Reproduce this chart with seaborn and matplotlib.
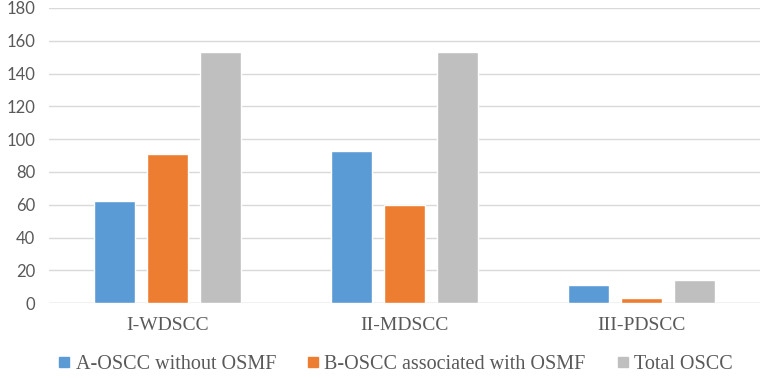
import pandas as pd
import seaborn as sns
import matplotlib
matplotlib.use('Agg')
import matplotlib.pyplot as plt
from matplotlib.lines import Line2D

# data
categories = ['I-WDSCC', 'II-MDSCC', 'III-PDSCC']
series = ['A-OSCC without OSMF', 'B-OSCC associated with OSMF', 'Total OSCC']
without_osmf = [62, 93, 11]
with_osmf = [91, 60, 3]
total_oscc = [153, 153, 14]
colors = ['#5B9BD5', '#ED7D31', '#BFBFBF']

rows = []
for name, vals in zip(series, [without_osmf, with_osmf, total_oscc]):
    for cat, v in zip(categories, vals):
        rows.append({'Grade': cat, 'Series': name, 'Count': v})
df = pd.DataFrame(rows)

sns.set_style('white')
fig = plt.figure(figsize=(7.67, 3.78), dpi=100)
ax = fig.add_axes([0.064, 0.198, 0.927, 0.781])

sns.barplot(data=df, x='Grade', y='Count', hue='Series', palette=colors,
            width=0.67, gap=0.23, ax=ax, legend=False, saturation=1)

ax.set_ylim(0, 180)
ax.set_yticks(range(0, 181, 20))
ax.set_xlim(-0.5, 2.5)
ax.yaxis.grid(True, color='#D9D9D9', linewidth=1)
ax.set_axisbelow(True)
for s in ax.spines.values():
    s.set_visible(False)
ax.axhline(0, color='#D9D9D9', linewidth=1, zorder=0)
ax.set_xlabel('')
ax.set_ylabel('')
ax.tick_params(axis='both', length=0)
ax.tick_params(axis='y', pad=10)
ax.tick_params(axis='x', pad=10)
for t in ax.get_yticklabels():
    t.set_fontfamily('Lato')
    t.set_fontsize(12)
    t.set_color('#595959')
for t in ax.get_xticklabels():
    t.set_fontfamily('Liberation Serif')
    t.set_fontsize(14)
    t.set_color('#595959')

handles = [Line2D([], [], marker='s', linestyle='', color=c, markersize=6.5) for c in colors]
fig.legend(handles, series, loc='center', bbox_to_anchor=(0.515, 0.037), ncol=3,
           frameon=False, handlelength=0.7, handletextpad=0.2, columnspacing=1.5,
           prop={'family': 'Liberation Serif', 'size': 14.5}, labelcolor='#595959')

fig.savefig('out.png', dpi=100)
